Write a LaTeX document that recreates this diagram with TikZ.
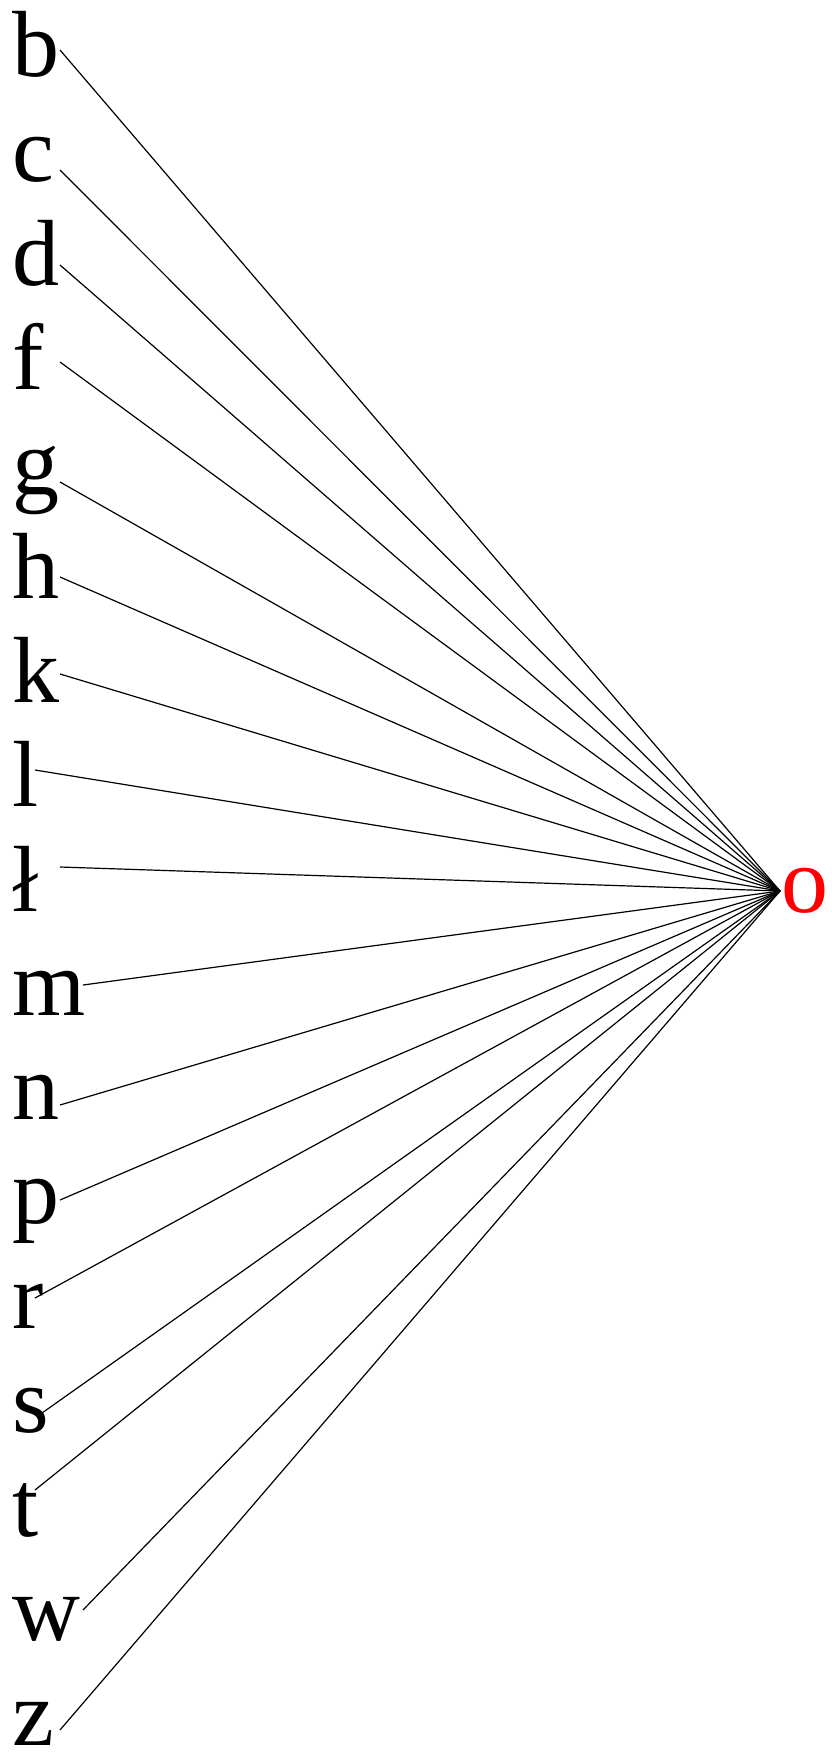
\documentclass[tikz,border=0pt]{standalone}
\usepackage{fontspec}
\setmainfont{Liberation Serif}
\begin{document}
\begin{tikzpicture}[x=1pt,y=-1pt,
  letter/.style={font=\fontsize{94}{100}\selectfont, inner sep=1pt, anchor=base west},
  target/.style={font=\fontsize{94}{100}\selectfont, inner sep=1pt, anchor=west, text=red},
  link/.style={line width=1.2pt}]
\useasboundingbox (0,0) rectangle (831,1753);
\node[target] (o) at (780,891) {o};
\foreach \t/\sx/\sy [count=\i from 0] in {b/60/50, c/60/170, d/60/265, f/60/362, g/60/482, h/60/577, k/60/674, l/35/770, ł/60/867, m/83/985, n/60/1105, p/60/1200, r/35/1298, s/42/1413, t/35/1490, w/83/1610, z/60/1730} {
  \node[letter] (n\i) at (11,{77+104.25*\i}) {\t};
  \coordinate (s\i) at (\sx,\sy);
  \draw[link] (s\i) -- (o.west);
}
\end{tikzpicture}
\end{document}
